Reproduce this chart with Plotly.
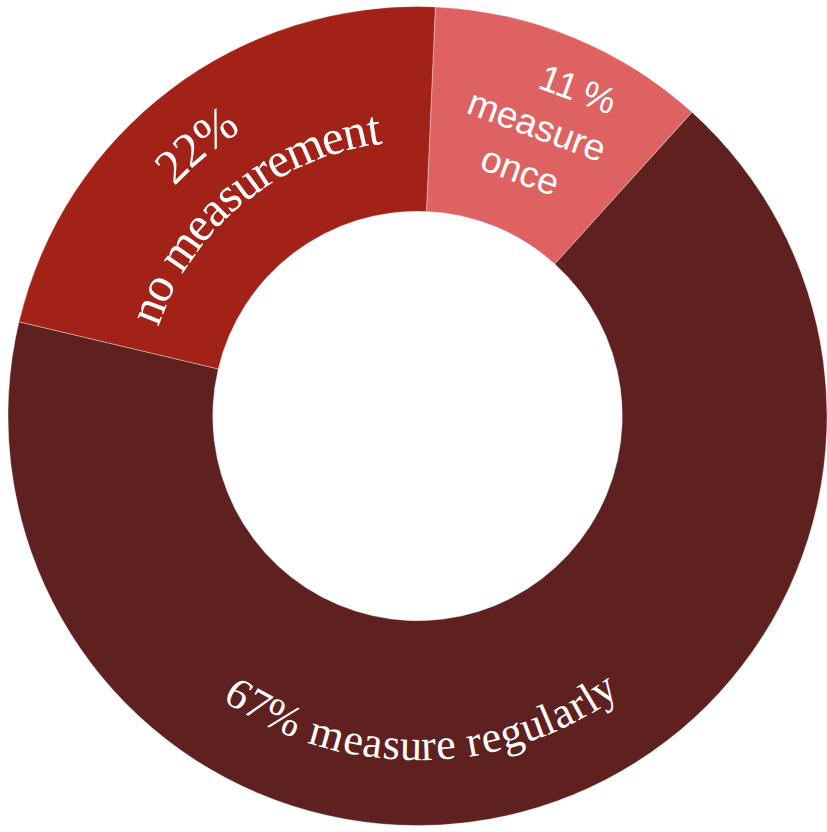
import math
import plotly.graph_objects as go

labels = ["measure once", "measure regularly", "no measurement"]
values = [11, 67, 22]
label_lines = [["11%", "measure", "once"], ["67% measure regularly"], ["22%", "no measurement"]]
colors = ["#DE6262", "#5E2120", "#A32218"]

# label styling
label_mode = ["straight", "curved", "curved"]
label_fonts = ["Liberation Sans", "Liberation Serif", "Liberation Serif"]
label_sizes = [37, 44, 49]
label_radii = [[314], [330], [351, 291]]          # px from centre (per line)
label_offsets = [0.0, -16.6, 2.0]                  # degrees from slice mid

W, H = 827, 832
ML, MR, MT, MB = 8, 0, 4, 4
PW, PH = W - ML - MR, H - MT - MB
ROT = 2.5

# Times / Liberation Serif advance widths (em/1000)
TW = {" ": 250, "%": 833, "a": 444, "c": 444, "e": 444, "g": 500, "l": 278,
      "m": 778, "n": 500, "o": 500, "r": 333, "s": 389, "t": 278, "u": 500, "y": 500}
for d in "0123456789":
    TW[d] = 500

fig = go.Figure(go.Pie(
    labels=labels,
    values=values,
    textinfo="none",
    hole=0.5,
    sort=False,
    direction="clockwise",
    rotation=ROT,
    marker=dict(colors=colors, line=dict(color="rgba(255,255,255,0.35)", width=1)),
    showlegend=False,
    hoverinfo="label+percent",
))


def to_paper(r, theta):
    dx = r * math.cos(theta)
    dy = r * math.sin(theta)
    return 0.5 + dx / PW, 0.5 + dy / PH


def spaced(s):
    # letter-spaced first line, nudged right like the original
    return "&nbsp;" * 5 + s[:-1] + "\u2009" + s[-1]


annotations = []
total = sum(values)
cum = 0.0
for i, v in enumerate(values):
    mid_cw = ROT + (cum + v / 2) / total * 360
    cum += v
    theta_c = math.radians(90 - mid_cw + label_offsets[i])
    size = label_sizes[i]
    font = dict(family=label_fonts[i], size=size, color="white")
    if label_mode[i] == "straight":
        lines = [spaced(label_lines[i][0])] + label_lines[i][1:]
        x, y = to_paper(label_radii[i][0], theta_c)
        annotations.append(dict(x=x, y=y, xref="paper", yref="paper", showarrow=False,
                                text="<br>".join(lines), font=font,
                                textangle=mid_cw - 2, xanchor="center", yanchor="middle"))
        continue
    bottom = math.sin(theta_c) < 0
    for line, r in zip(label_lines[i], label_radii[i]):
        widths = [TW.get(ch, 500) / 1000 * size for ch in line]
        span = sum(widths) / r
        acc = 0.0
        for ch, w in zip(line, widths):
            a = (acc + w / 2) / r
            acc += w
            if ch == " ":
                continue
            if bottom:
                th = theta_c - span / 2 + a
                ang = -(math.degrees(th) + 90)
            else:
                th = theta_c + span / 2 - a
                ang = 90 - math.degrees(th)
            x, y = to_paper(r, th)
            annotations.append(dict(x=x, y=y, xref="paper", yref="paper", showarrow=False,
                                    text=ch, font=font, textangle=ang,
                                    xanchor="center", yanchor="middle"))

fig.update_layout(
    width=W, height=H,
    margin=dict(l=ML, r=MR, t=MT, b=MB),
    paper_bgcolor="white",
    plot_bgcolor="white",
    annotations=annotations,
)
fig.write_html("out.html")
